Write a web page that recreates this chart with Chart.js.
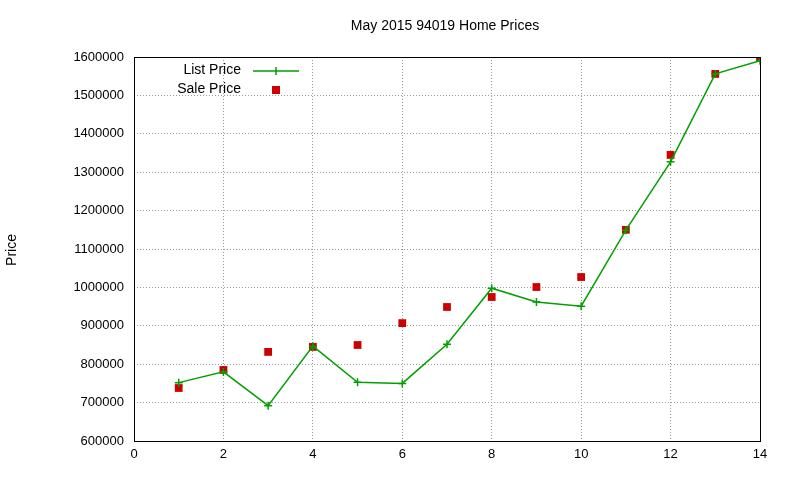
<!DOCTYPE html>
<html>
<head>
<meta charset="utf-8">
<script src="https://cdn.jsdelivr.net/npm/chart.js@4"></script>
<style>
  body { margin: 0; background: #fff; }
</style>
</head>
<body>
<canvas id="chart" width="800" height="480"></canvas>
<script>
const months = [1, 2, 3, 4, 5, 6, 7, 8, 9, 10, 11, 12, 13, 14];
const listPrice = [752000, 780000, 692000, 847000, 753000, 750000, 852000, 998000, 962000, 951000, 1149000, 1327000, 1556000, 1590000];
const salePrice = [738000, 785000, 832000, 845000, 850000, 907000, 949000, 975000, 1001000, 1027000, 1150000, 1345000, 1556000, 1600000];

const FONT = 'Liberation Sans';
const GREEN = '#00a000';
const RED = '#cc0000';

const toPoints = values => months.map((m, i) => ({ x: m, y: values[i] }));

const decorations = {
  id: 'decorations',
  afterDraw(chart) {
    const { ctx, chartArea: a } = chart;
    ctx.save();
    ctx.strokeStyle = '#000';
    ctx.lineWidth = 1;
    ctx.strokeRect(a.left + 0.5, a.top + 0.5, a.right - a.left, a.bottom - a.top);

    ctx.fillStyle = '#000';
    ctx.font = `14px ${FONT}`;
    ctx.textAlign = 'center';
    ctx.textBaseline = 'middle';
    ctx.fillText('May 2015 94019 Home Prices', 445, 26);

    ctx.save();
    ctx.translate(12, 250);
    ctx.rotate(-Math.PI / 2);
    ctx.fillText('Price', 0, 0);
    ctx.restore();

    // legend
    ctx.textAlign = 'right';
    ctx.fillText('List Price', 241, 70);
    ctx.fillText('Sale Price', 241, 89);
    ctx.strokeStyle = GREEN;
    ctx.lineWidth = 1.5;
    ctx.beginPath();
    ctx.moveTo(253, 71); ctx.lineTo(299, 71);
    ctx.moveTo(276, 67); ctx.lineTo(276, 75);
    ctx.stroke();
    ctx.fillStyle = RED;
    ctx.fillRect(272, 86, 8, 8);
    ctx.restore();
  }
};

new Chart(document.getElementById('chart'), {
  type: 'scatter',
  data: {
    datasets: [
      {
        label: 'List Price',
        data: toPoints(listPrice),
        showLine: true,
        borderColor: GREEN,
        backgroundColor: GREEN,
        borderWidth: 1.5,
        pointStyle: 'cross',
        pointRadius: 4,
        pointBorderWidth: 1.5,
        tension: 0
      },
      {
        label: 'Sale Price',
        data: toPoints(salePrice),
        showLine: false,
        borderColor: RED,
        backgroundColor: RED,
        pointStyle: 'rect',
        pointRadius: 5.5,
        pointBorderWidth: 0
      }
    ]
  },
  options: {
    responsive: false,
    animation: false,
    layout: { padding: { top: 57, right: 40, left: 0, bottom: 0 } },
    plugins: { legend: { display: false }, tooltip: { enabled: false } },
    scales: {
      x: {
        type: 'linear',
        min: 0,
        max: 14,
        ticks: { stepSize: 2, color: '#000', font: { family: FONT, size: 13 }, padding: 6 },
        grid: { color: '#999', tickLength: 0, drawTicks: false },
        border: { display: false, dash: [1, 2] },
        afterFit(scale) { scale.height = 39; }
      },
      y: {
        min: 600000,
        max: 1600000,
        ticks: { stepSize: 100000, color: '#000', font: { family: FONT, size: 13 }, padding: 10, callback: v => String(v) },
        grid: { color: '#999', drawTicks: false },
        border: { display: false, dash: [1, 2] },
        afterFit(scale) { scale.width = 134; }
      }
    }
  },
  plugins: [decorations]
});
</script>
</body>
</html>
